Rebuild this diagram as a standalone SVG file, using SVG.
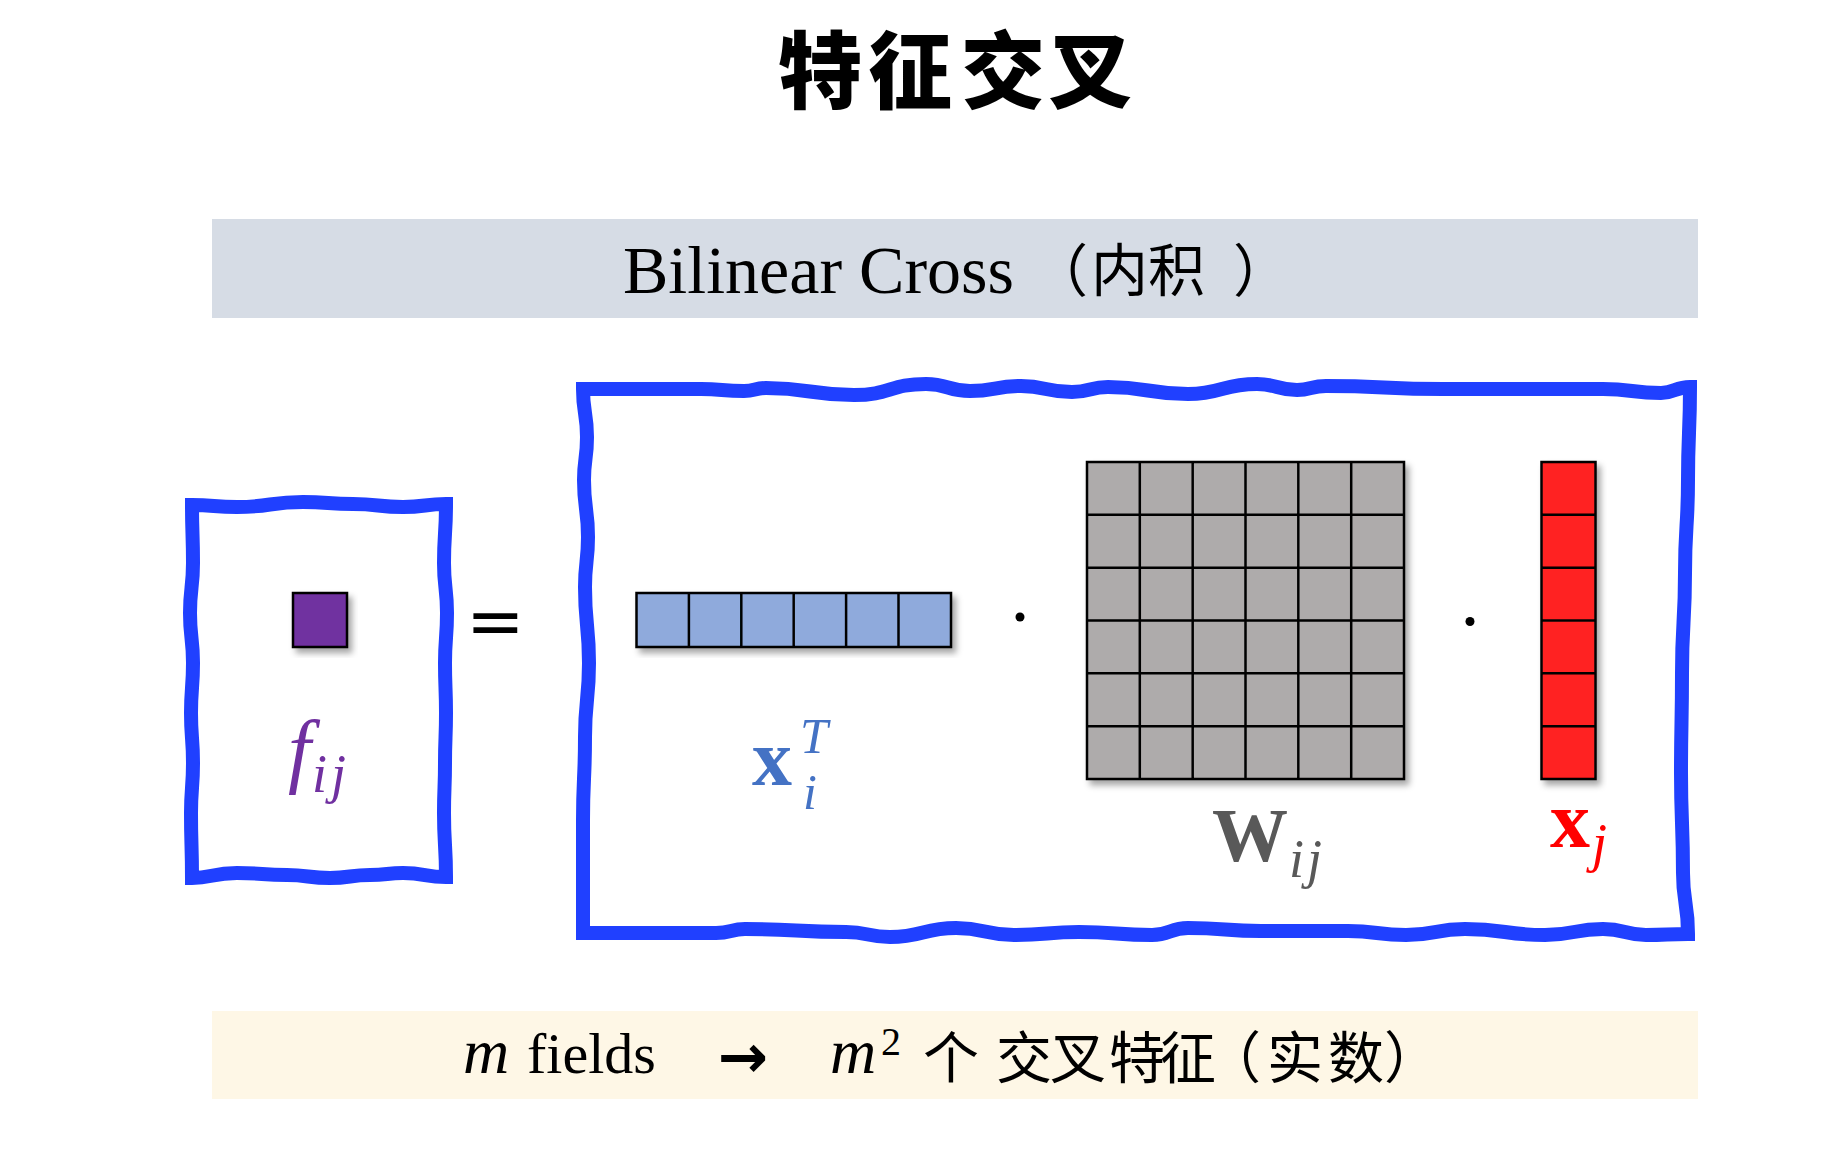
<svg xmlns="http://www.w3.org/2000/svg" width="1832" height="1156" viewBox="0 0 1832 1156">
<defs>
<filter id="sh" x="-20%" y="-20%" width="140%" height="140%">
<feDropShadow dx="4" dy="5" stdDeviation="3" flood-color="#000" flood-opacity="0.35"/>
</filter>
<style>
.cjk{font-family:"Noto Sans CJK SC","Noto Sans CJK TC",sans-serif;}
.ser{font-family:"Liberation Serif","Noto Sans CJK SC",serif;}
.wave{fill:none;stroke:#2040FF;stroke-width:14;stroke-linejoin:miter;}
.cell{stroke:#000;stroke-width:2.5;}
.grid{fill:none;stroke:#000;stroke-width:2.5;}
.it{font-style:italic;}
.bd{font-weight:bold;}
</style>
</defs>
<rect width="1832" height="1156" fill="#FFFFFF"/>

<g id="title">
<text class="cjk" font-size="84" font-weight="900" y="102" x="778 868 961 1048" fill="#000">特征交叉</text>
</g>

<g id="header">
<rect x="212" y="219" width="1486" height="99" fill="#D6DCE5"/>
<text class="ser" font-size="68" y="293" fill="#000"><tspan x="623">Bilinear Cross</tspan><tspan class="cjk" font-size="57" x="1031 1091 1148 1233" y="291">（内积）</tspan></text>
</g>

<g id="left-box">
<path class="wave" d="M192,505 C214,505 214,507 237,507 C270,507 270,502 303,502 C328,502 328,504 353,504 C378,504 378,507 403,507 C425,507 425,504 446,504 C446,534 444,534 444,563 C444,588 447,588 447,613 C447,638 445,638 445,663 C445,688 446,688 446,713 C446,738 445,738 445,763 C445,788 444,788 444,813 C444,845 446,845 446,877 C425,877 425,873 403,873 C387,873 387,875 370,875 C350,875 350,878 330,878 C308,878 308,875 287,875 C262,875 262,873 237,873 C212,873 212,878 192,878 C192,845 191,845 191,813 C191,788 193,788 193,763 C193,738 191,738 191,713 C191,688 193,688 193,663 C193,638 190,638 190,613 C190,588 193,588 193,563 C193,534 192,534 192,505 Z"/>
<rect class="cell" x="293" y="593" width="54" height="54" fill="#7030A0" filter="url(#sh)"/>
<text class="ser it" font-size="82" fill="#7030A0" x="288" y="777">f<tspan font-size="54" x="312" y="792" letter-spacing="4">ij</tspan></text>
</g>

<g id="equals">
<text font-family="DejaVu Sans, sans-serif" font-size="70" x="466" y="645" fill="#000">=</text>
</g>

<g id="right-box">
<path class="wave" d="M583,389 C642,389 642,389 701,389 C722,389 722,391 744,391 C755,391 755,388 766,388 C810,388 810,395 854,395 C890,395 890,384 926,384 C948,384 948,391 970,391 C995,391 995,386 1021,386 C1046,386 1046,392 1072,392 C1090,392 1090,387 1108,387 C1148,387 1148,394 1188,394 C1222,394 1222,384 1257,384 C1277,384 1277,390 1297,390 C1311,390 1311,386 1326,386 C1384,386 1384,389 1443,389 C1523,389 1523,389 1603,389 C1632,389 1632,393 1661,393 C1675,393 1675,387 1690,387 C1690,433 1688,433 1688,480 C1688,526 1685,526 1685,573 C1685,623 1682,623 1682,673 C1682,723 1681,723 1681,773 C1681,823 1683,823 1683,873 C1683,903 1688,903 1688,934 C1667,934 1667,935 1646,935 C1625,935 1625,929 1603,929 C1574,929 1574,935 1545,935 C1505,935 1505,929 1465,929 C1435,929 1435,935 1406,935 C1377,935 1377,931 1348,931 C1305,931 1305,931 1261,931 C1225,931 1225,928 1188,928 C1170,928 1170,935 1152,935 C1116,935 1116,932 1079,932 C1047,932 1047,935 1014,935 C985,935 985,928 956,928 C923,928 923,937 890,937 C868,937 868,932 846,932 C796,932 796,929 745,929 C731,929 731,933 716,933 C650,933 650,933 583,933 C583,877 583,877 583,820 C583,779 585,779 585,737 C585,700 589,700 589,663 C589,625 585,625 585,587 C585,562 588,562 588,537 C588,509 584,509 584,480 C584,459 587,459 587,437 C587,413 583,413 583,389 Z"/>

<g id="xi" filter="url(#sh)">
<rect class="cell" x="636.5" y="593" width="314.5" height="54" fill="#8FAADC"/>
<path class="grid" d="M688.9,593V647M741.3,593V647M793.7,593V647M846.1,593V647M898.5,593V647"/>
</g>
<text class="ser" fill="#4472C4"><tspan class="bd" font-size="80" x="752" y="785">x</tspan><tspan class="it" font-size="50" x="800" y="753">T</tspan><tspan class="it" font-size="50" x="803" y="809">i</tspan></text>

<circle cx="1020" cy="617" r="4.5" fill="#000"/>

<g id="W" filter="url(#sh)">
<rect class="cell" x="1087" y="462" width="317" height="317" fill="#AEABAB"/>
<path class="grid" d="M1139.8,462V779M1192.7,462V779M1245.5,462V779M1298.3,462V779M1351.2,462V779M1087,514.8H1404M1087,567.7H1404M1087,620.5H1404M1087,673.3H1404M1087,726.2H1404"/>
</g>
<text class="ser" fill="#595959"><tspan class="bd" font-size="76" x="1212" y="861">W</tspan><tspan class="it" font-size="54" x="1289" y="877" letter-spacing="3">ij</tspan></text>

<circle cx="1470" cy="621.5" r="4.5" fill="#000"/>

<g id="xj" filter="url(#sh)">
<rect class="cell" x="1541.5" y="462" width="54" height="317" fill="#FF2222"/>
<path class="grid" d="M1541.5,514.8H1595.5M1541.5,567.7H1595.5M1541.5,620.5H1595.5M1541.5,673.3H1595.5M1541.5,726.2H1595.5"/>
</g>
<text class="ser" fill="#FF0000"><tspan class="bd" font-size="80" x="1550" y="847">x</tspan><tspan class="it" font-size="54" x="1592" y="861">j</tspan></text>
</g>

<g id="footer">
<rect x="212" y="1011" width="1486" height="88" fill="#FEF7E6"/>
<text class="ser" font-size="58" y="1073" fill="#000"><tspan class="it" font-size="64" x="463">m</tspan><tspan x="527">fields</tspan><tspan font-family="DejaVu Sans, sans-serif" font-weight="bold" font-size="60" x="718" y="1077">→</tspan><tspan class="it" font-size="64" x="830" y="1073">m</tspan><tspan font-size="40" x="881" y="1055">2</tspan><tspan class="cjk" font-size="56" x="923 996 1050 1109 1160 1205 1267 1328 1384" y="1078">个交叉特征（实数）</tspan></text>
</g>
</svg>
